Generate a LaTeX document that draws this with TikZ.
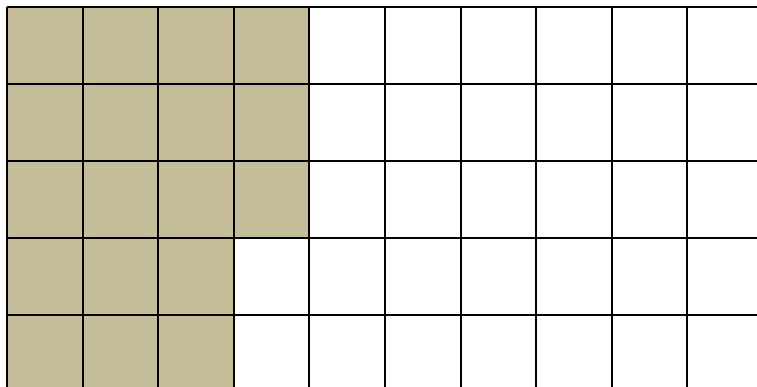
\documentclass[tikz,border=0pt]{standalone}
\definecolor{tan}{HTML}{C4BD97}
\begin{document}
\begin{tikzpicture}[x=1pt,y=-1pt,gridline/.style={line width=2pt,black}]
\useasboundingbox (0,0) rectangle (757,387);
% shaded cells
\fill[tan] (7,7) rectangle (309.4,238);
\fill[tan] (7,238) rectangle (233.8,387);
% vertical lines
\foreach \i in {0,...,9}{
  \draw[gridline] ({7+75.6*\i},7) -- ({7+75.6*\i},387);
}
% horizontal lines
\foreach \j in {0,...,4}{
  \draw[gridline] (7,{7+77*\j}) -- (757,{7+77*\j});
}
\end{tikzpicture}
\end{document}
